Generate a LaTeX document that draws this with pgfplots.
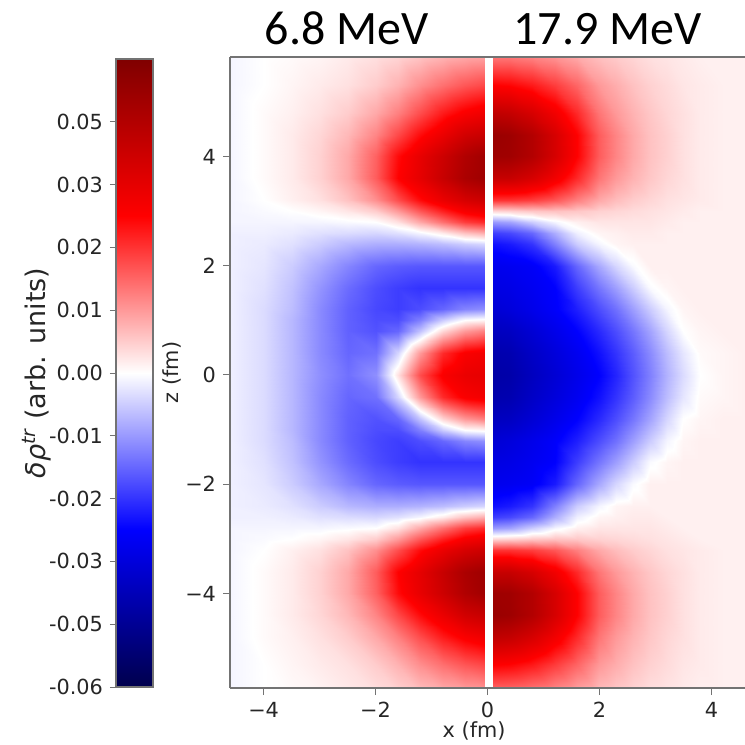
\documentclass[border=0pt]{standalone}
\usepackage{fontspec}
\setmainfont{DejaVu Sans}
\newfontfamily\carlito{Carlito}
\usepackage{pgfplots}
\usepackage{pgfplotstable}
\pgfplotsset{compat=1.18}
\pgfplotsset{colormap={seismic}{rgb=(0,0,0.3) rgb=(0,0,1) rgb=(1,1,1) rgb=(1,0,0) rgb=(0.5,0,0)}}

% 6.8 MeV panel (x < 0), normalized colour value v in [-1,1]
\pgfplotstableread[row sep=\\]{
x z v \\
-4.6 -5.85 -0.02 \\ -4.0 -5.85 0.00 \\ -3.5 -5.85 0.01 \\ -3.0 -5.85 0.02 \\ -2.5 -5.85 0.04 \\ -2.0 -5.85 0.06 \\ -1.6 -5.85 0.08 \\ -1.2 -5.85 0.11 \\ -0.8 -5.85 0.14 \\ -0.4 -5.85 0.16 \\ -0.05 -5.85 0.17 \\
-4.6 -5.3 -0.02 \\ -4.0 -5.3 0.00 \\ -3.5 -5.3 0.02 \\ -3.0 -5.3 0.04 \\ -2.5 -5.3 0.06 \\ -2.0 -5.3 0.10 \\ -1.6 -5.3 0.15 \\ -1.2 -5.3 0.22 \\ -0.8 -5.3 0.28 \\ -0.4 -5.3 0.33 \\ -0.05 -5.3 0.36 \\
-4.6 -4.8 -0.02 \\ -4.0 -4.8 0.01 \\ -3.5 -4.8 0.03 \\ -3.0 -4.8 0.06 \\ -2.5 -4.8 0.10 \\ -2.0 -4.8 0.17 \\ -1.6 -4.8 0.25 \\ -1.2 -4.8 0.35 \\ -0.8 -4.8 0.45 \\ -0.4 -4.8 0.52 \\ -0.05 -4.8 0.56 \\
-4.6 -4.4 -0.02 \\ -4.0 -4.4 0.01 \\ -3.5 -4.4 0.04 \\ -3.0 -4.4 0.08 \\ -2.5 -4.4 0.14 \\ -2.0 -4.4 0.24 \\ -1.6 -4.4 0.36 \\ -1.2 -4.4 0.48 \\ -0.8 -4.4 0.58 \\ -0.4 -4.4 0.68 \\ -0.05 -4.4 0.72 \\
-4.6 -4.0 -0.02 \\ -4.0 -4.0 0.01 \\ -3.5 -4.0 0.04 \\ -3.0 -4.0 0.09 \\ -2.5 -4.0 0.17 \\ -2.0 -4.0 0.31 \\ -1.6 -4.0 0.48 \\ -1.2 -4.0 0.59 \\ -0.8 -4.0 0.70 \\ -0.4 -4.0 0.81 \\ -0.05 -4.0 0.87 \\
-4.6 -3.6 -0.02 \\ -4.0 -3.6 0.01 \\ -3.5 -3.6 0.04 \\ -3.0 -3.6 0.09 \\ -2.5 -3.6 0.17 \\ -2.0 -3.6 0.32 \\ -1.6 -3.6 0.50 \\ -1.2 -3.6 0.60 \\ -0.8 -3.6 0.72 \\ -0.4 -3.6 0.83 \\ -0.05 -3.6 0.88 \\
-4.6 -3.2 -0.02 \\ -4.0 -3.2 0.00 \\ -3.5 -3.2 0.03 \\ -3.0 -3.2 0.06 \\ -2.5 -3.2 0.12 \\ -2.0 -3.2 0.22 \\ -1.6 -3.2 0.35 \\ -1.2 -3.2 0.48 \\ -0.8 -3.2 0.58 \\ -0.4 -3.2 0.66 \\ -0.05 -3.2 0.70 \\
-4.6 -3.0 -0.02 \\ -4.0 -3.0 -0.01 \\ -3.5 -3.0 0.00 \\ -3.0 -3.0 0.02 \\ -2.5 -3.0 0.05 \\ -2.0 -3.0 0.10 \\ -1.6 -3.0 0.20 \\ -1.2 -3.0 0.33 \\ -0.8 -3.0 0.44 \\ -0.4 -3.0 0.53 \\ -0.05 -3.0 0.57 \\
-4.6 -2.8 -0.02 \\ -4.0 -2.8 -0.02 \\ -3.5 -2.8 -0.02 \\ -3.0 -2.8 -0.02 \\ -2.5 -2.8 -0.01 \\ -2.0 -2.8 0.00 \\ -1.6 -2.8 0.06 \\ -1.2 -2.8 0.17 \\ -0.8 -2.8 0.28 \\ -0.4 -2.8 0.38 \\ -0.05 -2.8 0.42 \\
-4.6 -2.6 -0.03 \\ -4.0 -2.6 -0.03 \\ -3.5 -2.6 -0.04 \\ -3.0 -2.6 -0.06 \\ -2.5 -2.6 -0.07 \\ -2.0 -2.6 -0.08 \\ -1.6 -2.6 -0.06 \\ -1.2 -2.6 -0.02 \\ -0.8 -2.6 0.04 \\ -0.4 -2.6 0.12 \\ -0.05 -2.6 0.16 \\
-4.6 -2.4 -0.03 \\ -4.0 -2.4 -0.04 \\ -3.5 -2.4 -0.06 \\ -3.0 -2.4 -0.10 \\ -2.5 -2.4 -0.14 \\ -2.0 -2.4 -0.16 \\ -1.6 -2.4 -0.16 \\ -1.2 -2.4 -0.15 \\ -0.8 -2.4 -0.13 \\ -0.4 -2.4 -0.10 \\ -0.05 -2.4 -0.08 \\
-4.6 -2.0 -0.03 \\ -4.0 -2.0 -0.05 \\ -3.5 -2.0 -0.10 \\ -3.0 -2.0 -0.17 \\ -2.5 -2.0 -0.24 \\ -2.0 -2.0 -0.30 \\ -1.6 -2.0 -0.32 \\ -1.2 -2.0 -0.33 \\ -0.8 -2.0 -0.33 \\ -0.4 -2.0 -0.33 \\ -0.05 -2.0 -0.33 \\
-4.6 -1.6 -0.03 \\ -4.0 -1.6 -0.06 \\ -3.5 -1.6 -0.12 \\ -3.0 -1.6 -0.21 \\ -2.5 -1.6 -0.29 \\ -2.0 -1.6 -0.35 \\ -1.6 -1.6 -0.38 \\ -1.2 -1.6 -0.40 \\ -0.8 -1.6 -0.40 \\ -0.4 -1.6 -0.40 \\ -0.05 -1.6 -0.40 \\
-4.6 -1.2 -0.03 \\ -4.0 -1.2 -0.07 \\ -3.5 -1.2 -0.13 \\ -3.0 -1.2 -0.23 \\ -2.5 -1.2 -0.31 \\ -2.0 -1.2 -0.36 \\ -1.6 -1.2 -0.38 \\ -1.2 -1.2 -0.35 \\ -0.8 -1.2 -0.30 \\ -0.4 -1.2 -0.24 \\ -0.05 -1.2 -0.22 \\
-4.6 -1.0 -0.03 \\ -4.0 -1.0 -0.07 \\ -3.5 -1.0 -0.14 \\ -3.0 -1.0 -0.23 \\ -2.5 -1.0 -0.31 \\ -2.0 -1.0 -0.35 \\ -1.6 -1.0 -0.35 \\ -1.2 -1.0 -0.25 \\ -0.8 -1.0 -0.10 \\ -0.4 -1.0 0.00 \\ -0.05 -1.0 0.02 \\
-4.6 -0.8 -0.03 \\ -4.0 -0.8 -0.07 \\ -3.5 -0.8 -0.14 \\ -3.0 -0.8 -0.23 \\ -2.5 -0.8 -0.31 \\ -2.0 -0.8 -0.34 \\ -1.6 -0.8 -0.30 \\ -1.2 -0.8 -0.12 \\ -0.8 -0.8 0.08 \\ -0.4 -0.8 0.20 \\ -0.05 -0.8 0.25 \\
-4.6 -0.4 -0.03 \\ -4.0 -0.4 -0.07 \\ -3.5 -0.4 -0.14 \\ -3.0 -0.4 -0.23 \\ -2.5 -0.4 -0.30 \\ -2.0 -0.4 -0.28 \\ -1.6 -0.4 -0.08 \\ -1.2 -0.4 0.20 \\ -0.8 -0.4 0.42 \\ -0.4 -0.4 0.52 \\ -0.05 -0.4 0.55 \\
-4.6 0.0 -0.03 \\ -4.0 0.0 -0.07 \\ -3.5 0.0 -0.14 \\ -3.0 0.0 -0.22 \\ -2.5 0.0 -0.28 \\ -2.0 0.0 -0.22 \\ -1.6 0.0 0.06 \\ -1.2 0.0 0.35 \\ -0.8 0.0 0.52 \\ -0.4 0.0 0.58 \\ -0.05 0.0 0.60 \\
-4.6 0.4 -0.03 \\ -4.0 0.4 -0.07 \\ -3.5 0.4 -0.14 \\ -3.0 0.4 -0.23 \\ -2.5 0.4 -0.30 \\ -2.0 0.4 -0.28 \\ -1.6 0.4 -0.08 \\ -1.2 0.4 0.20 \\ -0.8 0.4 0.42 \\ -0.4 0.4 0.52 \\ -0.05 0.4 0.55 \\
-4.6 0.8 -0.03 \\ -4.0 0.8 -0.07 \\ -3.5 0.8 -0.14 \\ -3.0 0.8 -0.23 \\ -2.5 0.8 -0.31 \\ -2.0 0.8 -0.34 \\ -1.6 0.8 -0.30 \\ -1.2 0.8 -0.12 \\ -0.8 0.8 0.08 \\ -0.4 0.8 0.20 \\ -0.05 0.8 0.25 \\
-4.6 1.0 -0.03 \\ -4.0 1.0 -0.07 \\ -3.5 1.0 -0.14 \\ -3.0 1.0 -0.23 \\ -2.5 1.0 -0.31 \\ -2.0 1.0 -0.35 \\ -1.6 1.0 -0.35 \\ -1.2 1.0 -0.25 \\ -0.8 1.0 -0.10 \\ -0.4 1.0 0.00 \\ -0.05 1.0 0.02 \\
-4.6 1.2 -0.03 \\ -4.0 1.2 -0.07 \\ -3.5 1.2 -0.13 \\ -3.0 1.2 -0.23 \\ -2.5 1.2 -0.31 \\ -2.0 1.2 -0.36 \\ -1.6 1.2 -0.38 \\ -1.2 1.2 -0.35 \\ -0.8 1.2 -0.30 \\ -0.4 1.2 -0.24 \\ -0.05 1.2 -0.22 \\
-4.6 1.6 -0.03 \\ -4.0 1.6 -0.06 \\ -3.5 1.6 -0.12 \\ -3.0 1.6 -0.21 \\ -2.5 1.6 -0.29 \\ -2.0 1.6 -0.35 \\ -1.6 1.6 -0.38 \\ -1.2 1.6 -0.40 \\ -0.8 1.6 -0.40 \\ -0.4 1.6 -0.40 \\ -0.05 1.6 -0.40 \\
-4.6 2.0 -0.03 \\ -4.0 2.0 -0.05 \\ -3.5 2.0 -0.10 \\ -3.0 2.0 -0.17 \\ -2.5 2.0 -0.24 \\ -2.0 2.0 -0.30 \\ -1.6 2.0 -0.32 \\ -1.2 2.0 -0.33 \\ -0.8 2.0 -0.33 \\ -0.4 2.0 -0.33 \\ -0.05 2.0 -0.33 \\
-4.6 2.4 -0.03 \\ -4.0 2.4 -0.04 \\ -3.5 2.4 -0.06 \\ -3.0 2.4 -0.10 \\ -2.5 2.4 -0.14 \\ -2.0 2.4 -0.16 \\ -1.6 2.4 -0.16 \\ -1.2 2.4 -0.15 \\ -0.8 2.4 -0.13 \\ -0.4 2.4 -0.10 \\ -0.05 2.4 -0.08 \\
-4.6 2.6 -0.03 \\ -4.0 2.6 -0.03 \\ -3.5 2.6 -0.04 \\ -3.0 2.6 -0.06 \\ -2.5 2.6 -0.07 \\ -2.0 2.6 -0.08 \\ -1.6 2.6 -0.06 \\ -1.2 2.6 -0.02 \\ -0.8 2.6 0.04 \\ -0.4 2.6 0.12 \\ -0.05 2.6 0.16 \\
-4.6 2.8 -0.02 \\ -4.0 2.8 -0.02 \\ -3.5 2.8 -0.02 \\ -3.0 2.8 -0.02 \\ -2.5 2.8 -0.01 \\ -2.0 2.8 0.00 \\ -1.6 2.8 0.06 \\ -1.2 2.8 0.17 \\ -0.8 2.8 0.28 \\ -0.4 2.8 0.38 \\ -0.05 2.8 0.42 \\
-4.6 3.0 -0.02 \\ -4.0 3.0 -0.01 \\ -3.5 3.0 0.00 \\ -3.0 3.0 0.02 \\ -2.5 3.0 0.05 \\ -2.0 3.0 0.10 \\ -1.6 3.0 0.20 \\ -1.2 3.0 0.33 \\ -0.8 3.0 0.44 \\ -0.4 3.0 0.53 \\ -0.05 3.0 0.57 \\
-4.6 3.2 -0.02 \\ -4.0 3.2 0.00 \\ -3.5 3.2 0.03 \\ -3.0 3.2 0.06 \\ -2.5 3.2 0.12 \\ -2.0 3.2 0.22 \\ -1.6 3.2 0.35 \\ -1.2 3.2 0.48 \\ -0.8 3.2 0.58 \\ -0.4 3.2 0.66 \\ -0.05 3.2 0.70 \\
-4.6 3.6 -0.02 \\ -4.0 3.6 0.01 \\ -3.5 3.6 0.04 \\ -3.0 3.6 0.09 \\ -2.5 3.6 0.17 \\ -2.0 3.6 0.32 \\ -1.6 3.6 0.50 \\ -1.2 3.6 0.60 \\ -0.8 3.6 0.72 \\ -0.4 3.6 0.83 \\ -0.05 3.6 0.88 \\
-4.6 4.0 -0.02 \\ -4.0 4.0 0.01 \\ -3.5 4.0 0.04 \\ -3.0 4.0 0.09 \\ -2.5 4.0 0.17 \\ -2.0 4.0 0.31 \\ -1.6 4.0 0.48 \\ -1.2 4.0 0.59 \\ -0.8 4.0 0.70 \\ -0.4 4.0 0.81 \\ -0.05 4.0 0.87 \\
-4.6 4.4 -0.02 \\ -4.0 4.4 0.01 \\ -3.5 4.4 0.04 \\ -3.0 4.4 0.08 \\ -2.5 4.4 0.14 \\ -2.0 4.4 0.24 \\ -1.6 4.4 0.36 \\ -1.2 4.4 0.48 \\ -0.8 4.4 0.58 \\ -0.4 4.4 0.68 \\ -0.05 4.4 0.72 \\
-4.6 4.8 -0.02 \\ -4.0 4.8 0.01 \\ -3.5 4.8 0.03 \\ -3.0 4.8 0.06 \\ -2.5 4.8 0.10 \\ -2.0 4.8 0.17 \\ -1.6 4.8 0.25 \\ -1.2 4.8 0.35 \\ -0.8 4.8 0.45 \\ -0.4 4.8 0.52 \\ -0.05 4.8 0.56 \\
-4.6 5.3 -0.02 \\ -4.0 5.3 0.00 \\ -3.5 5.3 0.02 \\ -3.0 5.3 0.04 \\ -2.5 5.3 0.06 \\ -2.0 5.3 0.10 \\ -1.6 5.3 0.15 \\ -1.2 5.3 0.22 \\ -0.8 5.3 0.28 \\ -0.4 5.3 0.33 \\ -0.05 5.3 0.36 \\
-4.6 5.85 -0.02 \\ -4.0 5.85 0.00 \\ -3.5 5.85 0.01 \\ -3.0 5.85 0.02 \\ -2.5 5.85 0.04 \\ -2.0 5.85 0.06 \\ -1.6 5.85 0.08 \\ -1.2 5.85 0.11 \\ -0.8 5.85 0.14 \\ -0.4 5.85 0.16 \\ -0.05 5.85 0.17 \\
}\leftdata

% 17.9 MeV panel (x > 0)
\pgfplotstableread[row sep=\\]{
x z v \\
0.1 -5.85 0.25 \\ 0.4 -5.85 0.25 \\ 0.8 -5.85 0.23 \\ 1.2 -5.85 0.20 \\ 1.6 -5.85 0.16 \\ 2.0 -5.85 0.12 \\ 2.3 -5.85 0.10 \\ 2.6 -5.85 0.08 \\ 2.9 -5.85 0.06 \\ 3.2 -5.85 0.05 \\ 3.5 -5.85 0.04 \\ 3.8 -5.85 0.03 \\ 4.2 -5.85 0.03 \\ 4.6 -5.85 0.03 \\
0.1 -5.3 0.50 \\ 0.4 -5.3 0.49 \\ 0.8 -5.3 0.45 \\ 1.2 -5.3 0.38 \\ 1.6 -5.3 0.30 \\ 2.0 -5.3 0.20 \\ 2.3 -5.3 0.16 \\ 2.6 -5.3 0.12 \\ 2.9 -5.3 0.09 \\ 3.2 -5.3 0.07 \\ 3.5 -5.3 0.05 \\ 3.8 -5.3 0.04 \\ 4.2 -5.3 0.03 \\ 4.6 -5.3 0.03 \\
0.1 -4.8 0.75 \\ 0.4 -4.8 0.73 \\ 0.8 -4.8 0.66 \\ 1.2 -4.8 0.55 \\ 1.6 -4.8 0.42 \\ 2.0 -4.8 0.27 \\ 2.3 -4.8 0.20 \\ 2.6 -4.8 0.15 \\ 2.9 -4.8 0.11 \\ 3.2 -4.8 0.08 \\ 3.5 -4.8 0.06 \\ 3.8 -4.8 0.04 \\ 4.2 -4.8 0.03 \\ 4.6 -4.8 0.03 \\
0.1 -4.4 0.90 \\ 0.4 -4.4 0.88 \\ 0.8 -4.4 0.80 \\ 1.2 -4.4 0.66 \\ 1.6 -4.4 0.50 \\ 2.0 -4.4 0.32 \\ 2.3 -4.4 0.24 \\ 2.6 -4.4 0.17 \\ 2.9 -4.4 0.12 \\ 3.2 -4.4 0.09 \\ 3.5 -4.4 0.06 \\ 3.8 -4.4 0.04 \\ 4.2 -4.4 0.03 \\ 4.6 -4.4 0.03 \\
0.1 -4.0 0.88 \\ 0.4 -4.0 0.87 \\ 0.8 -4.0 0.80 \\ 1.2 -4.0 0.66 \\ 1.6 -4.0 0.50 \\ 2.0 -4.0 0.32 \\ 2.3 -4.0 0.24 \\ 2.6 -4.0 0.17 \\ 2.9 -4.0 0.12 \\ 3.2 -4.0 0.09 \\ 3.5 -4.0 0.06 \\ 3.8 -4.0 0.04 \\ 4.2 -4.0 0.03 \\ 4.6 -4.0 0.03 \\
0.1 -3.6 0.72 \\ 0.4 -3.6 0.72 \\ 0.8 -3.6 0.66 \\ 1.2 -3.6 0.55 \\ 1.6 -3.6 0.42 \\ 2.0 -3.6 0.27 \\ 2.3 -3.6 0.20 \\ 2.6 -3.6 0.15 \\ 2.9 -3.6 0.11 \\ 3.2 -3.6 0.08 \\ 3.5 -3.6 0.06 \\ 3.8 -3.6 0.04 \\ 4.2 -3.6 0.03 \\ 4.6 -3.6 0.03 \\
0.1 -3.2 0.40 \\ 0.4 -3.2 0.40 \\ 0.8 -3.2 0.38 \\ 1.2 -3.2 0.33 \\ 1.6 -3.2 0.25 \\ 2.0 -3.2 0.17 \\ 2.3 -3.2 0.13 \\ 2.6 -3.2 0.10 \\ 2.9 -3.2 0.08 \\ 3.2 -3.2 0.06 \\ 3.5 -3.2 0.05 \\ 3.8 -3.2 0.04 \\ 4.2 -3.2 0.03 \\ 4.6 -3.2 0.03 \\
0.1 -3.0 0.08 \\ 0.4 -3.0 0.09 \\ 0.8 -3.0 0.11 \\ 1.2 -3.0 0.12 \\ 1.6 -3.0 0.11 \\ 2.0 -3.0 0.09 \\ 2.3 -3.0 0.08 \\ 2.6 -3.0 0.07 \\ 2.9 -3.0 0.06 \\ 3.2 -3.0 0.05 \\ 3.5 -3.0 0.04 \\ 3.8 -3.0 0.03 \\ 4.2 -3.0 0.03 \\ 4.6 -3.0 0.03 \\
0.1 -2.8 -0.20 \\ 0.4 -2.8 -0.18 \\ 0.8 -2.8 -0.10 \\ 1.2 -2.8 -0.02 \\ 1.6 -2.8 0.03 \\ 2.0 -2.8 0.05 \\ 2.3 -2.8 0.05 \\ 2.6 -2.8 0.05 \\ 2.9 -2.8 0.05 \\ 3.2 -2.8 0.04 \\ 3.5 -2.8 0.03 \\ 3.8 -2.8 0.03 \\ 4.2 -2.8 0.03 \\ 4.6 -2.8 0.03 \\
0.1 -2.6 -0.38 \\ 0.4 -2.6 -0.36 \\ 0.8 -2.6 -0.30 \\ 1.2 -2.6 -0.16 \\ 1.6 -2.6 -0.03 \\ 2.0 -2.6 0.02 \\ 2.3 -2.6 0.03 \\ 2.6 -2.6 0.04 \\ 2.9 -2.6 0.04 \\ 3.2 -2.6 0.03 \\ 3.5 -2.6 0.03 \\ 3.8 -2.6 0.03 \\ 4.2 -2.6 0.03 \\ 4.6 -2.6 0.03 \\
0.1 -2.4 -0.47 \\ 0.4 -2.4 -0.45 \\ 0.8 -2.4 -0.40 \\ 1.2 -2.4 -0.25 \\ 1.6 -2.4 -0.10 \\ 2.0 -2.4 -0.02 \\ 2.3 -2.4 0.02 \\ 2.6 -2.4 0.03 \\ 2.9 -2.4 0.03 \\ 3.2 -2.4 0.03 \\ 3.5 -2.4 0.03 \\ 3.8 -2.4 0.03 \\ 4.2 -2.4 0.03 \\ 4.6 -2.4 0.03 \\
0.1 -2.0 -0.55 \\ 0.4 -2.0 -0.54 \\ 0.8 -2.0 -0.52 \\ 1.2 -2.0 -0.45 \\ 1.6 -2.0 -0.30 \\ 2.0 -2.0 -0.17 \\ 2.3 -2.0 -0.08 \\ 2.6 -2.0 -0.01 \\ 2.9 -2.0 0.03 \\ 3.2 -2.0 0.03 \\ 3.5 -2.0 0.03 \\ 3.8 -2.0 0.03 \\ 4.2 -2.0 0.03 \\ 4.6 -2.0 0.03 \\
0.1 -1.6 -0.58 \\ 0.4 -1.6 -0.57 \\ 0.8 -1.6 -0.54 \\ 1.2 -1.6 -0.50 \\ 1.6 -1.6 -0.38 \\ 2.0 -1.6 -0.27 \\ 2.3 -1.6 -0.19 \\ 2.6 -1.6 -0.10 \\ 2.9 -1.6 -0.01 \\ 3.2 -1.6 0.02 \\ 3.5 -1.6 0.03 \\ 3.8 -1.6 0.03 \\ 4.2 -1.6 0.03 \\ 4.6 -1.6 0.03 \\
0.1 -1.2 -0.62 \\ 0.4 -1.2 -0.60 \\ 0.8 -1.2 -0.56 \\ 1.2 -1.2 -0.51 \\ 1.6 -1.2 -0.44 \\ 2.0 -1.2 -0.35 \\ 2.3 -1.2 -0.28 \\ 2.6 -1.2 -0.19 \\ 2.9 -1.2 -0.10 \\ 3.2 -1.2 -0.02 \\ 3.5 -1.2 0.02 \\ 3.8 -1.2 0.03 \\ 4.2 -1.2 0.03 \\ 4.6 -1.2 0.03 \\
0.1 -0.8 -0.68 \\ 0.4 -0.8 -0.67 \\ 0.8 -0.8 -0.62 \\ 1.2 -0.8 -0.56 \\ 1.6 -0.8 -0.50 \\ 2.0 -0.8 -0.42 \\ 2.3 -0.8 -0.35 \\ 2.6 -0.8 -0.27 \\ 2.9 -0.8 -0.18 \\ 3.2 -0.8 -0.08 \\ 3.5 -0.8 0.00 \\ 3.8 -0.8 0.02 \\ 4.2 -0.8 0.03 \\ 4.6 -0.8 0.03 \\
0.1 -0.4 -0.73 \\ 0.4 -0.4 -0.72 \\ 0.8 -0.4 -0.66 \\ 1.2 -0.4 -0.60 \\ 1.6 -0.4 -0.54 \\ 2.0 -0.4 -0.47 \\ 2.3 -0.4 -0.40 \\ 2.6 -0.4 -0.32 \\ 2.9 -0.4 -0.23 \\ 3.2 -0.4 -0.13 \\ 3.5 -0.4 -0.05 \\ 3.8 -0.4 0.01 \\ 4.2 -0.4 0.02 \\ 4.6 -0.4 0.03 \\
0.1 0.0 -0.75 \\ 0.4 0.0 -0.74 \\ 0.8 0.0 -0.68 \\ 1.2 0.0 -0.62 \\ 1.6 0.0 -0.56 \\ 2.0 0.0 -0.50 \\ 2.3 0.0 -0.43 \\ 2.6 0.0 -0.34 \\ 2.9 0.0 -0.25 \\ 3.2 0.0 -0.15 \\ 3.5 0.0 -0.07 \\ 3.8 0.0 0.00 \\ 4.2 0.0 0.02 \\ 4.6 0.0 0.03 \\
0.1 0.4 -0.73 \\ 0.4 0.4 -0.72 \\ 0.8 0.4 -0.66 \\ 1.2 0.4 -0.60 \\ 1.6 0.4 -0.54 \\ 2.0 0.4 -0.47 \\ 2.3 0.4 -0.40 \\ 2.6 0.4 -0.32 \\ 2.9 0.4 -0.23 \\ 3.2 0.4 -0.13 \\ 3.5 0.4 -0.05 \\ 3.8 0.4 0.01 \\ 4.2 0.4 0.02 \\ 4.6 0.4 0.03 \\
0.1 0.8 -0.68 \\ 0.4 0.8 -0.67 \\ 0.8 0.8 -0.62 \\ 1.2 0.8 -0.56 \\ 1.6 0.8 -0.50 \\ 2.0 0.8 -0.42 \\ 2.3 0.8 -0.35 \\ 2.6 0.8 -0.27 \\ 2.9 0.8 -0.18 \\ 3.2 0.8 -0.08 \\ 3.5 0.8 0.00 \\ 3.8 0.8 0.02 \\ 4.2 0.8 0.03 \\ 4.6 0.8 0.03 \\
0.1 1.2 -0.62 \\ 0.4 1.2 -0.60 \\ 0.8 1.2 -0.56 \\ 1.2 1.2 -0.51 \\ 1.6 1.2 -0.44 \\ 2.0 1.2 -0.35 \\ 2.3 1.2 -0.28 \\ 2.6 1.2 -0.19 \\ 2.9 1.2 -0.10 \\ 3.2 1.2 -0.02 \\ 3.5 1.2 0.02 \\ 3.8 1.2 0.03 \\ 4.2 1.2 0.03 \\ 4.6 1.2 0.03 \\
0.1 1.6 -0.58 \\ 0.4 1.6 -0.57 \\ 0.8 1.6 -0.54 \\ 1.2 1.6 -0.50 \\ 1.6 1.6 -0.38 \\ 2.0 1.6 -0.27 \\ 2.3 1.6 -0.19 \\ 2.6 1.6 -0.10 \\ 2.9 1.6 -0.01 \\ 3.2 1.6 0.02 \\ 3.5 1.6 0.03 \\ 3.8 1.6 0.03 \\ 4.2 1.6 0.03 \\ 4.6 1.6 0.03 \\
0.1 2.0 -0.55 \\ 0.4 2.0 -0.54 \\ 0.8 2.0 -0.52 \\ 1.2 2.0 -0.45 \\ 1.6 2.0 -0.30 \\ 2.0 2.0 -0.17 \\ 2.3 2.0 -0.08 \\ 2.6 2.0 -0.01 \\ 2.9 2.0 0.03 \\ 3.2 2.0 0.03 \\ 3.5 2.0 0.03 \\ 3.8 2.0 0.03 \\ 4.2 2.0 0.03 \\ 4.6 2.0 0.03 \\
0.1 2.4 -0.47 \\ 0.4 2.4 -0.45 \\ 0.8 2.4 -0.40 \\ 1.2 2.4 -0.25 \\ 1.6 2.4 -0.10 \\ 2.0 2.4 -0.02 \\ 2.3 2.4 0.02 \\ 2.6 2.4 0.03 \\ 2.9 2.4 0.03 \\ 3.2 2.4 0.03 \\ 3.5 2.4 0.03 \\ 3.8 2.4 0.03 \\ 4.2 2.4 0.03 \\ 4.6 2.4 0.03 \\
0.1 2.6 -0.38 \\ 0.4 2.6 -0.36 \\ 0.8 2.6 -0.30 \\ 1.2 2.6 -0.16 \\ 1.6 2.6 -0.03 \\ 2.0 2.6 0.02 \\ 2.3 2.6 0.03 \\ 2.6 2.6 0.04 \\ 2.9 2.6 0.04 \\ 3.2 2.6 0.03 \\ 3.5 2.6 0.03 \\ 3.8 2.6 0.03 \\ 4.2 2.6 0.03 \\ 4.6 2.6 0.03 \\
0.1 2.8 -0.20 \\ 0.4 2.8 -0.18 \\ 0.8 2.8 -0.10 \\ 1.2 2.8 -0.02 \\ 1.6 2.8 0.03 \\ 2.0 2.8 0.05 \\ 2.3 2.8 0.05 \\ 2.6 2.8 0.05 \\ 2.9 2.8 0.05 \\ 3.2 2.8 0.04 \\ 3.5 2.8 0.03 \\ 3.8 2.8 0.03 \\ 4.2 2.8 0.03 \\ 4.6 2.8 0.03 \\
0.1 3.0 0.08 \\ 0.4 3.0 0.09 \\ 0.8 3.0 0.11 \\ 1.2 3.0 0.12 \\ 1.6 3.0 0.11 \\ 2.0 3.0 0.09 \\ 2.3 3.0 0.08 \\ 2.6 3.0 0.07 \\ 2.9 3.0 0.06 \\ 3.2 3.0 0.05 \\ 3.5 3.0 0.04 \\ 3.8 3.0 0.03 \\ 4.2 3.0 0.03 \\ 4.6 3.0 0.03 \\
0.1 3.2 0.40 \\ 0.4 3.2 0.40 \\ 0.8 3.2 0.38 \\ 1.2 3.2 0.33 \\ 1.6 3.2 0.25 \\ 2.0 3.2 0.17 \\ 2.3 3.2 0.13 \\ 2.6 3.2 0.10 \\ 2.9 3.2 0.08 \\ 3.2 3.2 0.06 \\ 3.5 3.2 0.05 \\ 3.8 3.2 0.04 \\ 4.2 3.2 0.03 \\ 4.6 3.2 0.03 \\
0.1 3.6 0.72 \\ 0.4 3.6 0.72 \\ 0.8 3.6 0.66 \\ 1.2 3.6 0.55 \\ 1.6 3.6 0.42 \\ 2.0 3.6 0.27 \\ 2.3 3.6 0.20 \\ 2.6 3.6 0.15 \\ 2.9 3.6 0.11 \\ 3.2 3.6 0.08 \\ 3.5 3.6 0.06 \\ 3.8 3.6 0.04 \\ 4.2 3.6 0.03 \\ 4.6 3.6 0.03 \\
0.1 4.0 0.88 \\ 0.4 4.0 0.87 \\ 0.8 4.0 0.80 \\ 1.2 4.0 0.66 \\ 1.6 4.0 0.50 \\ 2.0 4.0 0.32 \\ 2.3 4.0 0.24 \\ 2.6 4.0 0.17 \\ 2.9 4.0 0.12 \\ 3.2 4.0 0.09 \\ 3.5 4.0 0.06 \\ 3.8 4.0 0.04 \\ 4.2 4.0 0.03 \\ 4.6 4.0 0.03 \\
0.1 4.4 0.90 \\ 0.4 4.4 0.88 \\ 0.8 4.4 0.80 \\ 1.2 4.4 0.66 \\ 1.6 4.4 0.50 \\ 2.0 4.4 0.32 \\ 2.3 4.4 0.24 \\ 2.6 4.4 0.17 \\ 2.9 4.4 0.12 \\ 3.2 4.4 0.09 \\ 3.5 4.4 0.06 \\ 3.8 4.4 0.04 \\ 4.2 4.4 0.03 \\ 4.6 4.4 0.03 \\
0.1 4.8 0.75 \\ 0.4 4.8 0.73 \\ 0.8 4.8 0.66 \\ 1.2 4.8 0.55 \\ 1.6 4.8 0.42 \\ 2.0 4.8 0.27 \\ 2.3 4.8 0.20 \\ 2.6 4.8 0.15 \\ 2.9 4.8 0.11 \\ 3.2 4.8 0.08 \\ 3.5 4.8 0.06 \\ 3.8 4.8 0.04 \\ 4.2 4.8 0.03 \\ 4.6 4.8 0.03 \\
0.1 5.3 0.50 \\ 0.4 5.3 0.49 \\ 0.8 5.3 0.45 \\ 1.2 5.3 0.38 \\ 1.6 5.3 0.30 \\ 2.0 5.3 0.20 \\ 2.3 5.3 0.16 \\ 2.6 5.3 0.12 \\ 2.9 5.3 0.09 \\ 3.2 5.3 0.07 \\ 3.5 5.3 0.05 \\ 3.8 5.3 0.04 \\ 4.2 5.3 0.03 \\ 4.6 5.3 0.03 \\
0.1 5.85 0.25 \\ 0.4 5.85 0.25 \\ 0.8 5.85 0.23 \\ 1.2 5.85 0.20 \\ 1.6 5.85 0.16 \\ 2.0 5.85 0.12 \\ 2.3 5.85 0.10 \\ 2.6 5.85 0.08 \\ 2.9 5.85 0.06 \\ 3.2 5.85 0.05 \\ 3.5 5.85 0.04 \\ 3.8 5.85 0.03 \\ 4.2 5.85 0.03 \\ 4.6 5.85 0.03 \\
}\rightdata

% colour bar: the colour scale itself, from bottom to top
\pgfplotstableread[row sep=\\]{
x y v \\
0 -1 -1 \\ 1 -1 -1 \\
0 -0.5 -0.5 \\ 1 -0.5 -0.5 \\
0 0 0 \\ 1 0 0 \\
0 0.5 0.5 \\ 1 0.5 0.5 \\
0 1 1 \\ 1 1 1 \\
}\cbdata

\begin{document}
\begin{tikzpicture}
\path[use as bounding box] (0,0) rectangle (372.5pt,372.5pt);
% main heat map
\begin{axis}[
  at={(115pt,28.5pt)}, anchor=south west,
  scale only axis, width=257.5pt, height=315.5pt,
  xmin=-4.6, xmax=4.6, ymin=-5.73, ymax=5.82,
  enlargelimits=false,
  axis x line*=box, axis y line*=left,
  xtick={-4,-2,0,2,4}, xticklabels={−4,−2,0,2,4},
  ytick={-4,-2,0,2,4}, yticklabels={−4,−2,0,2,4},
  xtick pos=left, ytick pos=left, tick align=outside,
  major tick length=3.5pt,
  tick style={black!55, line width=0.5pt},
  axis line style={black!55, line width=0.8pt},
  ticklabel style={font=\fontsize{10.4}{12}\selectfont, text=black!85},
  xlabel={x (fm)}, ylabel={z (fm)},
  label style={font=\fontsize{10.4}{12}\selectfont, text=black!85},
  xlabel style={at={(axis description cs:0.474,0)}, anchor=center, yshift=-21.5pt},
  ylabel style={at={(axis description cs:-0.1126,0.5)}, anchor=center},
  colormap name=seismic,
  point meta min=-1, point meta max=1,
  axis on top,
]
\addplot[surf, shader=interp, mesh/cols=11, point meta=explicit] table[x=x, y=z, meta=v] {\leftdata};
\addplot[surf, shader=interp, mesh/cols=14, point meta=explicit] table[x=x, y=z, meta=v] {\rightdata};
\draw[black!55, line width=0.8pt] (rel axis cs:0,1) -- (rel axis cs:1,1);
\end{axis}
% colour bar
\begin{axis}[
  at={(58pt,29pt)}, anchor=south west,
  scale only axis, width=18.5pt, height=314pt,
  xmin=0, xmax=1, ymin=-1, ymax=1,
  enlargelimits=false,
  xtick=\empty,
  ytick={-1,-0.8,-0.6,-0.4,-0.2,0,0.2,0.4,0.6,0.8},
  yticklabels={-0.06,-0.05,-0.03,-0.02,-0.01,0.00,0.01,0.02,0.03,0.05},
  ytick pos=left, tick align=outside, major tick length=3pt,
  tick style={black!55, line width=0.5pt},
  axis line style={black!55, line width=0.6pt},
  yticklabel style={font=\fontsize{10.4}{12}\selectfont, text=black!85},
  ylabel={{\itshape δρ}\textsuperscript{\itshape tr} (arb. units)},
  ylabel style={at={(axis description cs:-2.15,0.5)}, anchor=center, font=\fontsize{13.5}{16}\selectfont, text=black!85},
  colormap name=seismic,
  point meta min=-1, point meta max=1,
  axis on top,
]
\addplot[surf, shader=interp, mesh/cols=2, point meta=explicit] table[x=x, y=y, meta=v] {\cbdata};
\end{axis}
\node[anchor=base, font=\carlito\fontsize{24}{28}\selectfont] at (173.3pt,350pt) {6.8 MeV};
\node[anchor=base, font=\carlito\fontsize{24}{28}\selectfont] at (303.75pt,350pt) {17.9 MeV};
\end{tikzpicture}
\end{document}
